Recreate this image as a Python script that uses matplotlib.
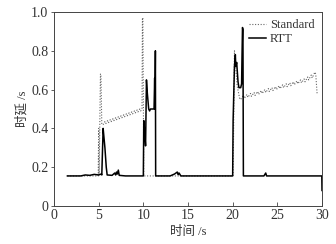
import matplotlib
matplotlib.use("Agg")
import matplotlib.pyplot as plt

# Standard (dotted) series
std_t = [1.5, 4.95, 5.0, 5.05, 5.2, 5.25, 5.35, 5.5,
         5.7, 5.8, 6.0, 6.1, 6.3, 6.4, 6.6, 6.7, 6.9, 7.0, 7.2, 7.3,
         7.5, 7.6, 7.8, 7.9, 8.1, 8.2, 8.4, 8.5, 8.7, 8.8, 9.0, 9.1,
         9.3, 9.4, 9.6, 9.7, 9.85, 9.9, 9.95, 10.05, 10.1, 20.0, 20.05,
         20.2, 20.5, 20.8, 20.9,
         21.2, 21.3, 21.6, 21.7, 22.0, 22.1, 22.4, 22.5, 22.8, 22.9,
         23.2, 23.3, 23.6, 23.7, 24.0, 24.1, 24.4, 24.5, 24.8, 24.9,
         25.2, 25.3, 25.6, 25.7, 26.0, 26.1, 26.4, 26.5, 26.8, 26.9,
         27.2, 27.3, 27.6, 27.7, 28.0, 28.1, 28.4, 28.5, 28.8, 28.9,
         29.2, 29.3, 29.45]
std_v = [0.155, 0.155, 0.40, 0.16, 0.68, 0.68, 0.42, 0.42,
         0.435, 0.425, 0.44, 0.43, 0.445, 0.435, 0.45, 0.44, 0.455, 0.445, 0.46, 0.45,
         0.465, 0.455, 0.47, 0.46, 0.475, 0.465, 0.48, 0.47, 0.485, 0.475, 0.49, 0.48,
         0.495, 0.485, 0.50, 0.49, 0.50, 0.97, 0.97, 0.155, 0.155, 0.155, 0.155,
         0.80, 0.62, 0.55, 0.55,
         0.57, 0.555, 0.575, 0.56, 0.58, 0.565, 0.585, 0.57, 0.59, 0.575,
         0.595, 0.58, 0.60, 0.585, 0.605, 0.59, 0.61, 0.595, 0.615, 0.60,
         0.62, 0.605, 0.625, 0.61, 0.63, 0.615, 0.635, 0.62, 0.64, 0.625,
         0.645, 0.63, 0.65, 0.635, 0.655, 0.64, 0.665, 0.65, 0.675, 0.66,
         0.69, 0.68, 0.58]

# RTT (solid) series
rtt_t = [1.5, 3.0, 3.5, 4.0, 4.5, 5.0, 5.3, 5.35, 5.5, 5.6, 5.7, 5.85, 5.95,
         6.5, 6.8, 6.9, 7.0, 7.1, 7.2, 7.3, 8.0, 10.0,
         10.05, 10.15, 10.25, 10.35, 10.45, 10.6, 10.7, 10.8, 11.2,
         11.27, 11.3, 11.35, 11.38, 13.0, 13.5, 13.8, 13.9, 14.0, 14.2, 20.0,
         20.05, 20.2, 20.3, 20.35, 20.45, 20.6, 20.7, 20.9, 21.0, 21.05,
         21.1, 21.15, 21.2, 23.5, 23.7, 23.8, 29.98, 30.0]
rtt_v = [0.155, 0.155, 0.16, 0.158, 0.163, 0.16, 0.165, 0.16, 0.40, 0.35, 0.30, 0.20, 0.16,
         0.158, 0.17, 0.16, 0.175, 0.165, 0.185, 0.158, 0.155, 0.155,
         0.44, 0.38, 0.31, 0.65, 0.58, 0.50, 0.49, 0.50, 0.50,
         0.66, 0.50, 0.80, 0.155, 0.155, 0.165, 0.175, 0.162, 0.17, 0.155, 0.155,
         0.44, 0.72, 0.78, 0.72, 0.74, 0.64, 0.61, 0.61, 0.63, 0.78,
         0.92, 0.91, 0.155, 0.155, 0.17, 0.155, 0.155, 0.08]

x_ticks = [0, 5, 10, 15, 20, 25, 30]
y_ticks = [0, 0.2, 0.4, 0.6, 0.8, 1.0]
y_tick_labels = ["0", "0.2", "0.4", "0.6", "0.8", "1.0"]

serif = "Liberation Serif"
cjk = ["Liberation Serif", "Noto Sans CJK SC"]
txt = "#333333"

fig = plt.figure(figsize=(3.36, 2.44), dpi=100)
ax = fig.add_axes([54 / 336, 1 - 206 / 244, 268 / 336, 194 / 244])

ax.plot(std_t, std_v, color="#666666", lw=0.8, linestyle=(0, (1, 1.5)), label="Standard")
ax.plot(rtt_t, rtt_v, color="black", lw=1.1, label="RTT")

ax.set_xlim(0, 30)
ax.set_ylim(0, 1.0)
ax.set_xticks(x_ticks)
ax.set_yticks(y_ticks)
ax.set_yticklabels(y_tick_labels)
ax.tick_params(axis="x", direction="in", length=3, width=0.6, labelsize=10, pad=2,
               colors="#444444", labelcolor=txt)
ax.tick_params(axis="y", direction="out", length=2.5, width=0.6, labelsize=10, pad=1.5,
               colors="#444444", labelcolor=txt)
for lab in ax.get_xticklabels() + ax.get_yticklabels():
    lab.set_family(serif)
for s in ax.spines.values():
    s.set_linewidth(0.7)
    s.set_color("#444444")

ax.set_xlabel("时间 /s", family=cjk, fontsize=9, labelpad=3, color=txt)
ax.set_ylabel("时延 /s", family=cjk, fontsize=9, labelpad=2, color=txt)

leg = ax.legend(loc="upper right", frameon=False, prop={"family": serif, "size": 9},
                handlelength=1.4, handletextpad=0.3, borderaxespad=0.2, labelspacing=0.15)
for t in leg.get_texts():
    t.set_color(txt)

fig.savefig("out.png", dpi=100)
